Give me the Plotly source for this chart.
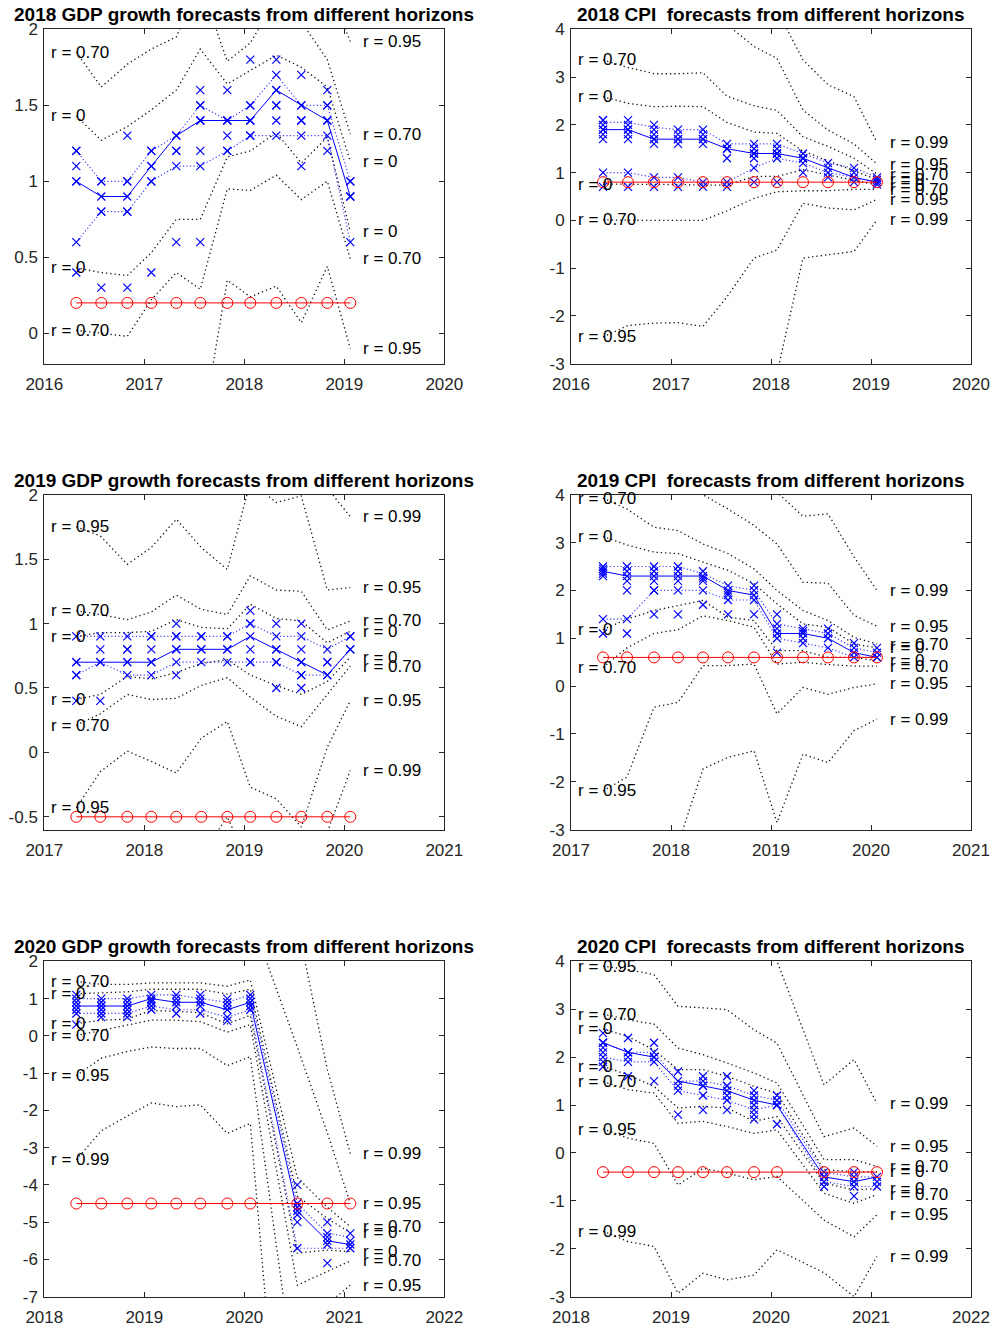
import plotly.graph_objects as go

W, H = 995, 1328
FONT = "Liberation Sans, Arial, Helvetica, sans-serif"
AXC = "#262626"

r_levels = [0.0, 0.70, 0.95, 0.99]

# ---------------- 2018 GDP ----------------
gdp18_dates = [2016.32, 2016.57, 2016.83, 2017.07, 2017.32, 2017.56, 2017.83, 2018.06, 2018.32, 2018.57, 2018.83, 2019.06]
gdp18_actual = 0.2
gdp18_median = [1.0, 0.9, 0.9, 1.1, 1.3, 1.4, 1.4, 1.4, 1.6, 1.5, 1.4, 0.9]
gdp18_qhi = [1.2, 1.0, 1.0, 1.2, 1.3, 1.5, 1.4, 1.5, 1.7, 1.5, 1.5, 1.0]
gdp18_qlo = [0.6, 0.8, 0.8, 1.0, 1.1, 1.1, 1.2, 1.3, 1.3, 1.3, 1.3, 0.6]
gdp18_fc = [
    [1.2, 1.2, 1.1, 1.0, 1.0, 0.6, 0.4],
    [1.0, 1.0, 0.9, 0.8, 0.8, 0.3],
    [1.3, 1.0, 1.0, 0.9, 0.8, 0.8, 0.3],
    [1.2, 1.2, 1.1, 1.1, 1.0, 1.0, 0.4],
    [1.3, 1.3, 1.2, 1.2, 1.1, 0.6],
    [1.6, 1.5, 1.5, 1.4, 1.4, 1.2, 1.1, 0.6],
    [1.6, 1.4, 1.4, 1.3, 1.2, 1.2],
    [1.8, 1.5, 1.5, 1.4, 1.4, 1.3, 1.3],
    [1.8, 1.7, 1.6, 1.6, 1.5, 1.5, 1.4, 1.3],
    [1.7, 1.5, 1.5, 1.4, 1.4, 1.3, 1.1],
    [1.6, 1.5, 1.5, 1.4, 1.4, 1.3, 1.2],
    [1.0, 1.0, 0.9, 0.9, 0.6],
]
gdp18_upper = [
    [1.43, 1.27, 1.36, 1.47, 1.60, 1.87, 1.64, 1.73, 1.83, 1.75, 1.62, 1.13],
    [1.85, 1.62, 1.77, 1.87, 1.95, 2.30, 1.79, 1.91, 2.20, 2.05, 1.80, 1.31],
    [2.90, 2.80, 2.80, 2.70, 2.70, 2.60, 2.30, 2.40, 2.50, 2.30, 2.30, 1.92],
    [3.60, 3.50, 3.50, 3.40, 3.40, 3.30, 3.00, 3.10, 3.20, 3.00, 3.00, 2.40],
]
gdp18_lower = [
    [0.43, 0.40, 0.38, 0.53, 0.75, 0.75, 1.16, 1.20, 1.32, 1.12, 1.29, 0.67],
    [0.02, 0.00, -0.02, 0.22, 0.40, 0.29, 0.95, 0.94, 1.04, 0.88, 1.00, 0.49],
    [-1.20, -1.10, -1.00, -0.90, -0.80, -0.70, 0.35, 0.24, 0.31, 0.07, 0.44, -0.10],
    [-1.90, -1.80, -1.70, -1.60, -1.50, -1.40, -0.35, -0.45, -0.40, -0.60, -0.30, -0.70],
]

# ---------------- 2018 CPI ----------------
cpi18_dates = gdp18_dates
cpi18_actual = 0.8
cpi18_median = [1.9, 1.9, 1.7, 1.7, 1.7, 1.5, 1.4, 1.4, 1.3, 1.1, 0.9, 0.8]
cpi18_qhi = [2.05, 2.05, 1.95, 1.9, 1.9, 1.6, 1.6, 1.6, 1.4, 1.2, 1.1, 0.9]
cpi18_qlo = [1.0, 1.0, 0.9, 0.9, 0.8, 0.8, 1.1, 1.3, 1.2, 1.0, 0.9, 0.8]
cpi18_fc = [
    [2.1, 2.1, 2.0, 1.9, 1.9, 1.8, 1.7, 1.0, 0.7],
    [2.1, 2.0, 1.9, 1.9, 1.8, 1.7, 1.0, 0.7],
    [2.0, 1.9, 1.8, 1.7, 1.7, 1.6, 0.9, 0.7],
    [1.9, 1.8, 1.7, 1.7, 1.6, 0.9, 0.7],
    [1.9, 1.8, 1.7, 1.7, 1.6, 0.8, 0.7],
    [1.6, 1.5, 1.5, 1.3, 0.8, 0.7],
    [1.6, 1.5, 1.4, 1.4, 1.3, 1.1, 0.8],
    [1.6, 1.5, 1.4, 1.4, 1.3, 0.8],
    [1.4, 1.3, 1.3, 1.2, 1.0],
    [1.2, 1.1, 1.0, 0.9],
    [1.1, 1.0, 0.9, 0.8],
    [0.9, 0.85, 0.8, 0.8, 0.75],
]
cpi18_upper = [
    [2.59, 2.45, 2.38, 2.39, 2.38, 2.05, 1.85, 1.82, 1.45, 1.25, 1.05, 0.85],
    [3.36, 3.20, 3.07, 3.07, 3.09, 2.60, 2.40, 2.30, 1.75, 1.55, 1.30, 0.97],
    [5.50, 5.30, 5.00, 4.70, 4.40, 4.10, 3.64, 3.39, 2.31, 1.89, 1.60, 1.18],
    [6.50, 6.50, 6.20, 6.00, 5.80, 5.40, 4.80, 4.40, 3.36, 2.84, 2.59, 1.63],
]
cpi18_lower = [
    [0.76, 0.76, 0.76, 0.75, 0.74, 0.74, 0.92, 0.92, 1.06, 0.95, 0.85, 0.74],
    [0.01, 0.00, 0.00, 0.00, 0.00, 0.20, 0.46, 0.60, 0.62, 0.62, 0.65, 0.65],
    [-2.44, -2.20, -2.15, -2.14, -2.22, -1.60, -0.79, -0.62, 0.36, 0.26, 0.22, 0.44],
    [-6.00, -5.80, -5.50, -5.50, -5.50, -4.80, -3.80, -3.20, -0.79, -0.72, -0.65, 0.01],
]

# ---------------- 2019 GDP ----------------
gdp19_dates = [2017.32, 2017.56, 2017.83, 2018.07, 2018.32, 2018.57, 2018.83, 2019.06, 2019.32, 2019.57, 2019.83, 2020.06]
gdp19_actual = -0.5
gdp19_median = [0.7, 0.7, 0.7, 0.7, 0.8, 0.8, 0.8, 0.9, 0.8, 0.7, 0.6, 0.8]
gdp19_qhi = [0.9, 0.9, 0.9, 0.9, 0.9, 0.9, 0.9, 1.0, 0.9, 0.9, 0.8, 0.9]
gdp19_qlo = [0.6, 0.7, 0.6, 0.6, 0.7, 0.7, 0.7, 0.7, 0.7, 0.6, 0.6, 0.8]
gdp19_fc = [
    [0.9, 0.7, 0.7, 0.6, 0.6, 0.4],
    [0.9, 0.8, 0.7, 0.7, 0.4],
    [0.9, 0.8, 0.8, 0.7, 0.7, 0.6],
    [0.9, 0.9, 0.8, 0.7, 0.7, 0.6],
    [1.0, 0.9, 0.9, 0.8, 0.8, 0.7, 0.6],
    [0.9, 0.9, 0.8, 0.8, 0.7],
    [0.9, 0.9, 0.8, 0.8, 0.7],
    [1.1, 1.0, 1.0, 0.9, 0.8, 0.7, 0.7],
    [1.0, 0.9, 0.8, 0.8, 0.7, 0.7, 0.5],
    [1.0, 0.9, 0.8, 0.7, 0.7, 0.6, 0.6, 0.5],
    [0.8, 0.7, 0.7, 0.6, 0.6],
    [0.9, 0.9, 0.8, 0.8],
]
gdp19_upper = [
    [0.90, 0.93, 0.93, 0.94, 1.03, 0.97, 0.96, 1.15, 1.04, 1.02, 0.85, 0.94],
    [1.10, 1.07, 1.03, 1.09, 1.22, 1.11, 1.07, 1.37, 1.26, 1.25, 0.95, 1.02],
    [1.75, 1.68, 1.46, 1.59, 1.81, 1.59, 1.42, 2.10, 1.94, 1.99, 1.26, 1.28],
    [2.60, 2.50, 2.30, 2.40, 2.60, 2.40, 2.20, 2.90, 2.70, 2.70, 2.05, 1.83],
]
gdp19_lower = [
    [0.41, 0.45, 0.59, 0.57, 0.62, 0.69, 0.72, 0.60, 0.52, 0.45, 0.55, 0.74],
    [0.21, 0.30, 0.45, 0.41, 0.42, 0.52, 0.58, 0.43, 0.28, 0.20, 0.45, 0.67],
    [-0.43, -0.15, 0.01, -0.07, -0.16, 0.11, 0.24, -0.27, -0.36, -0.58, 0.04, 0.40],
    [-1.60, -1.40, -1.20, -1.20, -1.10, -0.80, -0.50, -0.90, -0.80, -0.65, -0.62, -0.14],
]

# ---------------- 2019 CPI ----------------
cpi19_dates = gdp19_dates
cpi19_actual = 0.6
cpi19_median = [2.4, 2.3, 2.3, 2.3, 2.3, 2.0, 1.9, 1.1, 1.1, 1.0, 0.7, 0.6]
cpi19_qhi = [2.5, 2.5, 2.5, 2.5, 2.35, 2.1, 2.0, 1.3, 1.2, 1.1, 0.8, 0.7]
cpi19_qlo = [1.4, 1.4, 2.0, 2.0, 2.0, 1.8, 1.8, 1.0, 0.9, 0.8, 0.6, 0.6]
cpi19_fc = [
    [2.5, 2.45, 2.4, 2.35, 2.3, 1.4, 1.1],
    [2.5, 2.4, 2.3, 2.2, 2.0, 1.4, 1.1],
    [2.5, 2.4, 2.3, 2.2, 2.0, 2.0, 1.5],
    [2.5, 2.4, 2.3, 2.2, 2.0, 1.5],
    [2.4, 2.3, 2.25, 2.2, 2.0, 1.7],
    [2.1, 2.0, 1.95, 1.9, 1.8, 1.5],
    [2.1, 2.0, 1.9, 1.8, 1.5],
    [1.5, 1.3, 1.2, 1.1, 1.0, 0.7],
    [1.2, 1.15, 1.1, 1.0, 0.9],
    [1.2, 1.1, 1.0, 0.8],
    [0.9, 0.8, 0.7, 0.6],
    [0.8, 0.7, 0.6, 0.6],
]
cpi19_upper = [
    [3.13, 2.95, 2.80, 2.77, 2.59, 2.42, 2.14, 1.72, 1.30, 1.23, 0.88, 0.80],
    [3.93, 3.70, 3.32, 3.25, 2.97, 2.77, 2.45, 2.00, 1.58, 1.37, 1.02, 0.88],
    [5.50, 5.20, 4.80, 4.40, 4.00, 3.70, 3.36, 2.97, 2.17, 2.15, 1.48, 1.25],
    [6.50, 6.30, 6.00, 5.50, 5.00, 4.60, 4.30, 4.05, 3.55, 3.60, 2.70, 2.00],
]
cpi19_lower = [
    [1.18, 1.40, 1.58, 1.68, 1.79, 1.44, 1.37, 0.74, 0.74, 0.60, 0.60, 0.53],
    [0.39, 0.80, 1.10, 1.18, 1.47, 1.37, 1.23, 0.46, 0.50, 0.45, 0.42, 0.42],
    [-2.19, -1.90, -0.44, -0.34, 0.43, 0.43, 0.46, -0.58, -0.03, -0.17, -0.03, 0.05],
    [-5.00, -4.50, -3.80, -3.30, -1.73, -1.49, -1.35, -2.85, -1.42, -1.60, -0.93, -0.69],
]

# ---------------- 2020 GDP ----------------
gdp20_dates = [2018.32, 2018.57, 2018.83, 2019.07, 2019.32, 2019.56, 2019.83, 2020.06, 2020.53, 2020.83, 2021.06]
gdp20_actual = -4.5
gdp20_median = [0.8, 0.8, 0.8, 1.0, 0.9, 0.9, 0.7, 0.9, -4.7, -5.5, -5.6]
gdp20_qhi = [1.0, 1.0, 1.0, 1.1, 1.1, 1.0, 0.9, 1.1, -4.5, -5.3, -5.4]
gdp20_qlo = [0.6, 0.6, 0.6, 0.8, 0.7, 0.7, 0.5, 0.7, -5.7, -5.7, -5.7]
gdp20_fc = [
    [1.1, 1.0, 0.9, 0.8, 0.7, 0.6, 0.3],
    [1.0, 0.9, 0.8, 0.7, 0.6, 0.5],
    [1.0, 0.9, 0.8, 0.7, 0.6, 0.5],
    [1.1, 1.0, 0.95, 0.9, 0.8, 0.7],
    [1.1, 1.0, 0.9, 0.8, 0.6],
    [1.1, 1.0, 0.9, 0.8, 0.6],
    [1.0, 0.9, 0.8, 0.7, 0.5, 0.4],
    [1.1, 1.0, 0.9, 0.8, 0.7],
    [-4.0, -4.5, -4.6, -4.7, -4.8, -5.0, -5.7],
    [-5.0, -5.3, -5.4, -5.5, -5.6, -6.1],
    [-5.3, -5.5, -5.6, -5.7],
]
gdp20_upper = [
    [1.13, 1.16, 1.18, 1.25, 1.25, 1.25, 1.12, 1.25, -4.30, -4.90, -5.28],
    [1.46, 1.38, 1.38, 1.42, 1.42, 1.42, 1.33, 1.50, -3.80, -4.60, -5.12],
    [2.60, 2.60, 2.70, 2.90, 2.90, 2.90, 2.50, 3.20, -0.30, -2.60, -4.50],
    [4.50, 4.50, 4.50, 4.50, 4.50, 4.50, 4.50, 5.00, 3.00, -0.90, -3.16],
]
gdp20_lower = [
    [0.33, 0.42, 0.45, 0.68, 0.66, 0.62, 0.32, 0.55, -5.83, -5.75, -5.79],
    [0.01, 0.15, 0.30, 0.42, 0.42, 0.38, 0.10, 0.30, -6.69, -6.33, -6.04],
    [-1.07, -0.60, -0.42, -0.30, -0.34, -0.34, -0.80, -0.56, -9.70, -7.20, -6.69],
    [-3.32, -2.55, -2.15, -1.80, -1.90, -1.85, -2.62, -2.35, -17.0, -14.0, -10.0],
]

# ---------------- 2020 CPI ----------------
cpi20_dates = gdp20_dates
cpi20_actual = -0.4
cpi20_median = [2.3, 2.1, 2.0, 1.5, 1.4, 1.3, 1.1, 1.0, -0.5, -0.6, -0.5]
cpi20_qhi = [2.3, 2.1, 2.1, 1.5, 1.5, 1.4, 1.2, 1.1, -0.4, -0.5, -0.5]
cpi20_qlo = [2.0, 1.9, 1.9, 1.3, 1.2, 1.1, 0.9, 1.0, -0.6, -0.7, -0.7]
cpi20_fc = [
    [2.5, 2.3, 2.3, 2.2, 2.1, 2.0, 1.9, 1.8],
    [2.4, 2.1, 2.1, 2.0, 1.9, 1.6],
    [2.3, 2.1, 2.0, 2.0, 1.9, 1.5],
    [1.7, 1.5, 1.4, 1.3, 0.8],
    [1.6, 1.5, 1.4, 1.4, 1.2, 0.9],
    [1.6, 1.4, 1.4, 1.3, 1.2, 1.1, 0.9],
    [1.3, 1.2, 1.1, 1.0, 0.9, 0.8, 0.7],
    [1.2, 1.1, 1.0, 1.0, 0.6],
    [-0.4, -0.5, -0.5, -0.6, -0.7],
    [-0.4, -0.5, -0.6, -0.7, -0.9],
    [-0.5, -0.6, -0.7],
]
cpi20_upper = [
    [2.59, 2.43, 2.15, 1.74, 1.74, 1.60, 1.39, 1.25, -0.35, -0.39, -0.39],
    [2.90, 2.78, 2.69, 2.19, 2.05, 1.88, 1.67, 1.46, -0.14, -0.14, -0.28],
    [3.90, 3.83, 3.72, 3.06, 3.03, 2.99, 2.57, 2.29, 0.34, 0.52, 0.14],
    [6.00, 6.00, 6.00, 5.50, 5.20, 5.00, 4.50, 4.00, 1.42, 1.95, 1.03],
]
cpi20_lower = [
    [1.81, 1.63, 1.39, 0.94, 0.97, 0.94, 0.66, 0.76, -0.63, -0.77, -0.74],
    [1.49, 1.32, 1.25, 0.62, 0.66, 0.55, 0.41, 0.48, -0.84, -1.05, -0.87],
    [0.50, 0.31, 0.20, -0.67, -0.32, -0.42, -0.56, -0.49, -1.40, -1.75, -1.29],
    [-1.63, -1.85, -1.95, -2.93, -2.51, -2.65, -2.55, -2.02, -2.50, -3.00, -2.16],
]

titles = [
    "2018 GDP growth forecasts from different horizons",
    "2018 CPI \u00a0forecasts from different horizons",
    "2019 GDP growth forecasts from different horizons",
    "2019 CPI \u00a0forecasts from different horizons",
    "2020 GDP growth forecasts from different horizons",
    "2020 CPI \u00a0forecasts from different horizons",
]
x_start = [2016, 2016, 2017, 2017, 2018, 2018]
y_ranges = [[-0.2, 2], [-3, 4], [-0.6, 2], [-3, 4], [-7, 2], [-3, 4]]
y_ticks = [
    [0, 0.5, 1, 1.5, 2],
    [-3, -2, -1, 0, 1, 2, 3, 4],
    [-0.5, 0, 0.5, 1, 1.5, 2],
    [-3, -2, -1, 0, 1, 2, 3, 4],
    [-7, -6, -5, -4, -3, -2, -1, 0, 1, 2],
    [-3, -2, -1, 0, 1, 2, 3, 4],
]

panels = [
    (gdp18_dates, gdp18_actual, gdp18_median, gdp18_qhi, gdp18_qlo, gdp18_fc, gdp18_upper, gdp18_lower),
    (cpi18_dates, cpi18_actual, cpi18_median, cpi18_qhi, cpi18_qlo, cpi18_fc, cpi18_upper, cpi18_lower),
    (gdp19_dates, gdp19_actual, gdp19_median, gdp19_qhi, gdp19_qlo, gdp19_fc, gdp19_upper, gdp19_lower),
    (cpi19_dates, cpi19_actual, cpi19_median, cpi19_qhi, cpi19_qlo, cpi19_fc, cpi19_upper, cpi19_lower),
    (gdp20_dates, gdp20_actual, gdp20_median, gdp20_qhi, gdp20_qlo, gdp20_fc, gdp20_upper, gdp20_lower),
    (cpi20_dates, cpi20_actual, cpi20_median, cpi20_qhi, cpi20_qlo, cpi20_fc, cpi20_upper, cpi20_lower),
]

# layout geometry (pixels)
col_px = [(44.3, 444.3), (571.0, 971.0)]
row_px = [(29.3, 363.7), (494.7, 829.7), (961.3, 1296.7)]
title_y_px = [14.5, 480.5, 946.0]


def fmt_r(r):
    return "r = 0" if r == 0 else "r = %.2f" % r


def fmt_tick(v):
    return "%g" % v


fig = go.Figure()
annotations = []
layout_axes = {}

for i, (dates, actual, median, qhi, qlo, fc, upper, lower) in enumerate(panels):
    row, col = divmod(i, 2)
    n = i + 1
    xa = "x" if n == 1 else "x%d" % n
    ya = "y" if n == 1 else "y%d" % n
    xkey = "xaxis" if n == 1 else "xaxis%d" % n
    ykey = "yaxis" if n == 1 else "yaxis%d" % n

    x0, x1 = col_px[col]
    t, b = row_px[row]
    layout_axes[xkey] = dict(
        domain=[x0 / W, x1 / W], anchor=ya, range=[x_start[i], x_start[i] + 4],
        tickvals=[x_start[i] + k for k in range(5)],
        ticktext=[str(x_start[i] + k) for k in range(5)],
        showline=True, linecolor=AXC, linewidth=1, mirror="ticks",
        ticks="inside", ticklen=5, tickcolor=AXC, tickwidth=1,
        showgrid=False, zeroline=False, ticklabelstandoff=5, automargin=False,
        tickfont=dict(family=FONT, size=17, color=AXC),
    )
    yr = y_ranges[i]
    layout_axes[ykey] = dict(
        domain=[1 - b / H, 1 - t / H], anchor=xa, range=yr,
        tickvals=y_ticks[i], ticktext=[fmt_tick(v) for v in y_ticks[i]],
        showline=True, linecolor=AXC, linewidth=1, mirror="ticks",
        ticks="inside", ticklen=5, tickcolor=AXC, tickwidth=1,
        showgrid=False, zeroline=False, ticklabelstandoff=2, automargin=False,
        tickfont=dict(family=FONT, size=17, color=AXC),
    )

    # black dotted confidence lines + labels
    for k, r in enumerate(r_levels):
        for band in (upper[k], lower[k]):
            fig.add_trace(go.Scatter(
                x=dates, y=band, mode="lines", xaxis=xa, yaxis=ya,
                line=dict(color="#111111", width=1.3, dash="1.3px,3px"),
                hoverinfo="skip", showlegend=False))
            if yr[0] <= band[0] <= yr[1]:
                annotations.append(dict(
                    x=x_start[i] + 0.05, y=band[0], xref=xa, yref=ya,
                    text=fmt_r(r), showarrow=False, xanchor="left", yanchor="middle",
                    font=dict(family=FONT, size=17, color="black")))
            if yr[0] <= band[-1] <= yr[1]:
                annotations.append(dict(
                    x=dates[-1] + 0.11, y=band[-1], xref=xa, yref=ya,
                    text=fmt_r(r), showarrow=False, xanchor="left", yanchor="middle",
                    font=dict(family=FONT, size=17, color="black")))

    # blue dotted quartile lines
    for q in (qhi, qlo):
        fig.add_trace(go.Scatter(
            x=dates, y=q, mode="lines", xaxis=xa, yaxis=ya,
            line=dict(color="rgba(30,30,255,0.85)", width=1.2, dash="1.2px,2.3px"),
            hoverinfo="skip", showlegend=False))

    # individual forecasts (blue x)
    fx, fy = [], []
    for d, vals in zip(dates, fc):
        for v in vals:
            fx.append(d)
            fy.append(v)
    fig.add_trace(go.Scatter(
        x=fx, y=fy, mode="markers", xaxis=xa, yaxis=ya,
        marker=dict(symbol="x-thin", size=8, color="blue",
                    line=dict(color="blue", width=1.2)),
        hoverinfo="skip", showlegend=False))

    # median line
    fig.add_trace(go.Scatter(
        x=dates, y=median, mode="lines", xaxis=xa, yaxis=ya,
        line=dict(color="blue", width=1), hoverinfo="skip", showlegend=False))

    # actual outcome
    fig.add_trace(go.Scatter(
        x=dates, y=[actual] * len(dates), mode="lines+markers", xaxis=xa, yaxis=ya,
        line=dict(color="red", width=1),
        marker=dict(symbol="circle-open", size=11, color="red", line=dict(width=1, color="red")),
        hoverinfo="skip", showlegend=False))

    # title
    annotations.append(dict(
        x=(x0 + x1) / 2 / W, y=1 - title_y_px[row] / H, xref="paper", yref="paper",
        text="<b>%s</b>" % titles[i], showarrow=False, xanchor="center", yanchor="middle",
        font=dict(family=FONT, size=19, color="black")))

fig.update_layout(
    width=W, height=H, margin=dict(l=0, r=0, t=0, b=0, autoexpand=False),
    paper_bgcolor="white", plot_bgcolor="white", showlegend=False,
    annotations=annotations, **layout_axes)

fig.write_html("out.html")
